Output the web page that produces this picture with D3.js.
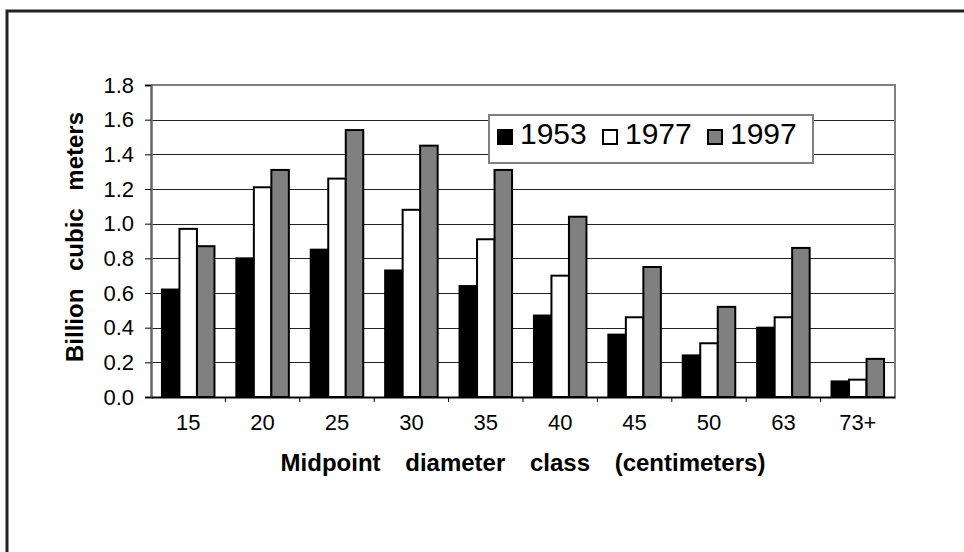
<!DOCTYPE html>
<html>
<head>
<meta charset="utf-8">
<script src="https://cdn.jsdelivr.net/npm/d3@7"></script>
<style>
  body { margin: 0; background: #fff; }
  svg { display: block; font-family: 'Liberation Sans', Arial, sans-serif; }
</style>
</head>
<body>
<div id="chart"></div>
<script>
  var categories = ['15', '20', '25', '30', '35', '40', '45', '50', '63', '73+'];
  var years = ['1953', '1977', '1997'];
  var v1953 = [0.62, 0.80, 0.85, 0.73, 0.64, 0.47, 0.36, 0.24, 0.40, 0.09];
  var v1977 = [0.97, 1.21, 1.26, 1.08, 0.91, 0.70, 0.46, 0.31, 0.46, 0.10];
  var v1997 = [0.87, 1.31, 1.54, 1.45, 1.31, 1.04, 0.75, 0.52, 0.86, 0.22];
  var yTicks = [0, 0.2, 0.4, 0.6, 0.8, 1.0, 1.2, 1.4, 1.6, 1.8];
  var colors = { '1953': '#000000', '1977': '#ffffff', '1997': '#808080' };

  var series = { '1953': v1953, '1977': v1977, '1997': v1997 };
  var data = [];
  categories.forEach(function(c, i) {
    years.forEach(function(y) {
      data.push({ cat: c, year: y, value: series[y][i] });
    });
  });

  var margin = { top: 85, right: 69, bottom: 155, left: 151 };
  var width = 964 - margin.left - margin.right;
  var height = 552 - margin.top - margin.bottom;

  var root = d3.select('#chart')
    .append('svg')
    .attr('width', 964)
    .attr('height', 552);

  // outer frame (left + top only, runs off the page)
  root.append('path')
    .attr('d', 'M7,552 L7,11 L964,11')
    .attr('fill', 'none')
    .attr('stroke', '#222')
    .attr('stroke-width', 3);

  var svg = root.append('g')
    .attr('transform', 'translate(' + margin.left + ',' + margin.top + ')');

  var x0 = d3.scaleBand()
    .domain(categories)
    .range([0, width])
    .padding(0);

  var x1 = d3.scaleBand()
    .domain(years)
    .range([0, x0.bandwidth()])
    .paddingInner(0)
    .paddingOuter(0.625);

  var y = d3.scaleLinear()
    .domain([0, 1.8])
    .range([height, 0]);

  // gridlines
  svg.selectAll('.grid')
    .data(yTicks.slice(1))
    .enter().append('line')
    .attr('class', 'grid')
    .attr('x1', 0)
    .attr('x2', width)
    .attr('y1', function(d) { return Math.round(y(d)) + 0.5; })
    .attr('y2', function(d) { return Math.round(y(d)) + 0.5; })
    .attr('stroke', '#222')
    .attr('stroke-width', 1);

  // plot border top/right
  svg.append('path')
    .attr('d', 'M0,0 L' + width + ',0 L' + width + ',' + height)
    .attr('fill', 'none')
    .attr('stroke', '#808080')
    .attr('stroke-width', 2);

  // bars
  svg.selectAll('.bar')
    .data(data)
    .enter().append('rect')
    .attr('class', 'bar')
    .attr('x', function(d) { return x0(d.cat) + x1(d.year); })
    .attr('y', function(d) { return y(d.value); })
    .attr('width', x1.bandwidth())
    .attr('height', function(d) { return height - y(d.value); })
    .attr('fill', function(d) { return colors[d.year]; })
    .attr('stroke', '#000')
    .attr('stroke-width', 2);

  // y axis
  var yAxis = svg.append('g')
    .attr('class', 'y-axis')
    .call(d3.axisLeft(y).tickValues(yTicks).tickFormat(d3.format('.1f')).tickSize(6).tickPadding(11));
  yAxis.select('.domain').attr('stroke', '#666').attr('stroke-width', 2.5);
  yAxis.selectAll('.tick line').attr('stroke', '#000');
  yAxis.selectAll('text')
    .attr('font-size', 22)
    .attr('font-family', "'Liberation Sans', Arial, sans-serif")
    .attr('fill', '#000');

  // x axis
  var xAxis = svg.append('g')
    .attr('class', 'x-axis')
    .attr('transform', 'translate(0,' + height + ')')
    .call(d3.axisBottom(x0).tickSize(0).tickPadding(17));
  xAxis.select('.domain').attr('stroke', '#000').attr('stroke-width', 2);
  xAxis.selectAll('text')
    .attr('font-size', 22)
    .attr('font-family', "'Liberation Sans', Arial, sans-serif")
    .attr('fill', '#000');

  // category separator ticks
  svg.selectAll('.xsep')
    .data(categories.slice(1))
    .enter().append('line')
    .attr('class', 'xsep')
    .attr('x1', function(d) { return x0(d); })
    .attr('x2', function(d) { return x0(d); })
    .attr('y1', height)
    .attr('y2', height + 5)
    .attr('stroke', '#000');

  // axis titles
  root.append('text')
    .attr('x', margin.left + width / 2)
    .attr('y', 471)
    .attr('text-anchor', 'middle')
    .attr('font-size', 24)
    .attr('font-weight', 'bold')
    .attr('word-spacing', 18)
    .text('Midpoint diameter class (centimeters)');

  root.append('text')
    .attr('transform', 'translate(83,237) rotate(-90)')
    .attr('text-anchor', 'middle')
    .attr('font-size', 24)
    .attr('font-weight', 'bold')
    .attr('word-spacing', 11)
    .text('Billion cubic meters');

  // legend
  var legend = root.append('g')
    .attr('transform', 'translate(489,115)');
  legend.append('rect')
    .attr('width', 324)
    .attr('height', 48)
    .attr('fill', '#fff')
    .attr('stroke', '#808080')
    .attr('stroke-width', 2);

  var item = legend.selectAll('.item')
    .data(years)
    .enter().append('g')
    .attr('class', 'item')
    .attr('transform', function(d, i) { return 'translate(' + (9 + i * 105) + ',0)'; });
  item.append('rect')
    .attr('x', 0)
    .attr('y', 15)
    .attr('width', 14)
    .attr('height', 14)
    .attr('fill', function(d) { return colors[d]; })
    .attr('stroke', '#000')
    .attr('stroke-width', 2);
  item.append('text')
    .attr('x', 22)
    .attr('y', 29)
    .attr('font-size', 30)
    .attr('fill', '#000')
    .text(function(d) { return d; });
</script>
</body>
</html>
